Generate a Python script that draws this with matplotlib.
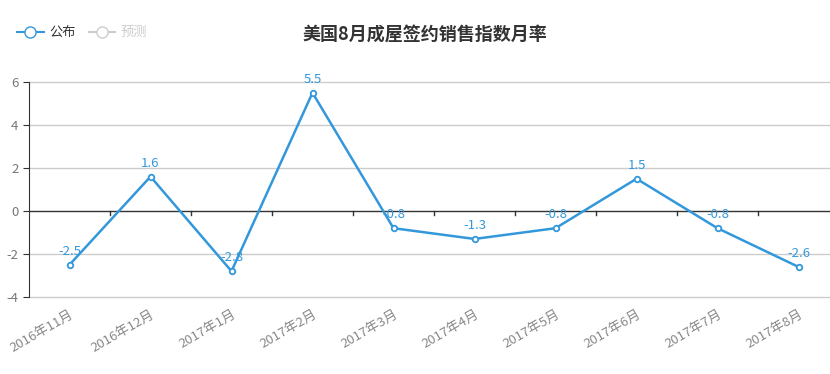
import numpy as np
import matplotlib.pyplot as plt
from matplotlib.lines import Line2D

plt.rcParams['font.family'] = ['Noto Sans CJK SC', 'DejaVu Sans']

months = ['2016年11月', '2016年12月', '2017年1月', '2017年2月', '2017年3月',
          '2017年4月', '2017年5月', '2017年6月', '2017年7月', '2017年8月']
values = [-2.5, 1.6, -2.8, 5.5, -0.8, -1.3, -0.8, 1.5, -0.8, -2.6]
yticks = [-4, -2, 0, 2, 4, 6]

blue = '#3398DB'
W, H = 830, 374
fig = plt.figure(figsize=(W / 100, H / 100), dpi=100)
ax = fig.add_axes([29 / W, 1 - 297 / H, 810 / W, (297 - 82) / H])

x = np.arange(len(months))
ax.plot(x, values, '-', color=blue, linewidth=1.8, marker='o', markersize=4,
        markerfacecolor='white', markeredgecolor=blue, markeredgewidth=1.3, zorder=3)
for xi, v in zip(x, values):
    ax.annotate(f'{v:g}', (xi, v), xytext=(0, 5), textcoords='offset points',
                ha='center', va='bottom', color=blue, fontsize=9.5)

ax.set_xlim(-0.5, len(months) - 0.5)
ax.set_ylim(-4, 6)
ax.set_yticks(yticks)
ax.set_yticklabels([str(t) for t in yticks])
for t in yticks:
    if t != 0:
        ax.axhline(t, color='#cccccc', linewidth=1, zorder=1, clip_on=False)
ax.axhline(0, color='#333333', linewidth=1, zorder=2)

# category boundary ticks on the zero line
for b in np.arange(0.5, len(months) - 0.5, 1.0):
    ax.plot([b, b], [0, -0.2], color='#333333', linewidth=1, zorder=2)

ax.set_xticks(x)
ax.set_xticklabels(months, rotation=30, ha='right', rotation_mode='anchor')
ax.tick_params(axis='x', length=0, pad=8, labelsize=9.5, labelcolor='#888888')
ax.tick_params(axis='y', length=4, color='#333333', labelsize=9.5, labelcolor='#777777')

for s in ['top', 'right', 'bottom']:
    ax.spines[s].set_visible(False)
ax.spines['left'].set_color('#333333')

fig.text(425 / W, 1 - 35 / H, '美国8月成屋签约销售指数月率', ha='center', va='center',
         fontsize=13, fontweight='bold', color='#333333')

h1 = Line2D([], [], color=blue, marker='o', markersize=8, markerfacecolor='white',
            markeredgecolor=blue, linewidth=1.5)
h2 = Line2D([], [], color='#cccccc', marker='o', markersize=8, markerfacecolor='white',
            markeredgecolor='#cccccc', linewidth=1.5)
leg = fig.legend([h1, h2], ['公布', '预测'], loc='upper left', bbox_to_anchor=(12 / W, 1 - 21 / H),
                 ncol=2, frameon=False, fontsize=9.5, handlelength=2.0, handletextpad=0.4,
                 columnspacing=1.0, borderaxespad=0)
leg.get_texts()[0].set_color('#333333')
leg.get_texts()[1].set_color('#cccccc')

fig.savefig('out.png', dpi=100)
